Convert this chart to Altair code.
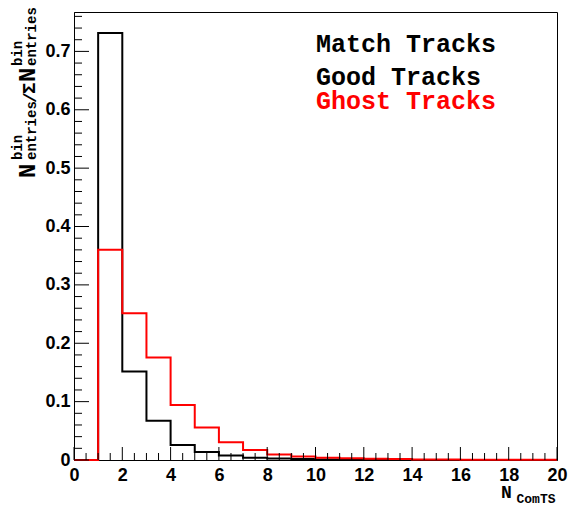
import altair as alt
import pandas as pd

# Normalised N_ComTS distributions, one value per unit bin from 0 to 20
bin_edges = list(range(0, 21))
good_tracks = [0.0, 0.7315, 0.1515, 0.0674, 0.0257, 0.0135, 0.0077, 0.0040,
               0.0025, 0.0015, 0.0010, 0.0007, 0.0005, 0.0003, 0.0002, 0.0002,
               0.0001, 0.0001, 0.0001, 0.0001]
ghost_tracks = [0.0, 0.3600, 0.2516, 0.1755, 0.0943, 0.0556, 0.0306, 0.0170,
                0.0094, 0.0060, 0.0040, 0.0030, 0.0020, 0.0015, 0.0010, 0.0008,
                0.0006, 0.0005, 0.0004, 0.0003]

x_labels = list(range(0, 21, 2))
y_labels = [0.0, 0.1, 0.2, 0.3, 0.4, 0.5, 0.6, 0.7]

W, H = 483, 448
PAD_L, PAD_T = 74, 12
MONO = "Liberation Mono"
SANS = "Liberation Sans"

xscale = alt.Scale(domain=[0, 20], nice=False, zero=False)
yscale = alt.Scale(domain=[0, 0.7675], nice=False, zero=True)

x_axis = alt.Axis(values=x_labels, ticks=False, grid=False, title=None,
                  labelFont=SANS, labelFontWeight="bold", labelFontSize=18,
                  labelColor="black", labelPadding=6, domainColor="black",
                  labelFlush=False, labelOverlap=False)
y_axis = alt.Axis(values=y_labels, ticks=False, grid=False, title=None,
                  labelFont=SANS, labelFontWeight="bold", labelFontSize=18,
                  labelColor="black", labelPadding=4, domainColor="black",
                  labelFlush=False, labelOverlap=False,
                  labelExpr="datum.value == 0 ? '0' : format(datum.value, '.1f')")


def step_frame(values):
    # outline points at every bin edge; the last bin is closed at x = 20
    return pd.DataFrame({"edge": bin_edges, "value": values + [values[-1]]})


def hist(values, color):
    return alt.Chart(step_frame(values)).mark_line(
        interpolate="step-after", color=color, strokeWidth=2
    ).encode(
        x=alt.X("edge:Q", scale=xscale, axis=x_axis),
        y=alt.Y("value:Q", scale=yscale, axis=y_axis),
    )


# inward-pointing ticks, ROOT style
x_major = [float(v) for v in range(0, 21, 2)]
x_minor = [i * 0.5 for i in range(41) if i % 4 != 0]
y_major = [round(i * 0.1, 2) for i in range(8)]
y_minor = [round(i * 0.02, 2) for i in range(39) if i % 5 != 0]


def xticks(vals, length):
    return alt.Chart(pd.DataFrame({"edge": vals})).mark_rule(
        color="black", strokeWidth=1
    ).encode(
        x=alt.X("edge:Q", scale=xscale, axis=x_axis),
        y=alt.value(H), y2=alt.value(H - length),
    )


def yticks(vals, length):
    return alt.Chart(pd.DataFrame({"value": vals})).mark_rule(
        color="black", strokeWidth=1
    ).encode(
        y=alt.Y("value:Q", scale=yscale, axis=y_axis),
        x=alt.value(0), x2=alt.value(length),
    )


one_row = pd.DataFrame({"k": [0]})


def label(text, px, py, size, color="black", angle=0, font=MONO):
    # px, py are page coordinates; shift into the plot-area frame
    return alt.Chart(one_row).mark_text(
        text=text, font=font, fontWeight="bold", fontSize=size, color=color,
        align="left", baseline="alphabetic", angle=angle,
    ).encode(x=alt.value(px - PAD_L), y=alt.value(py - PAD_T))


y_title = [
    label("N", 35, 178, 24, angle=270),
    label("bin", 22, 160, 14, angle=270),
    label("entries", 36, 160, 14, angle=270),
    label("/", 36, 103, 18, angle=270),
    label("Σ", 35, 94, 19, angle=270),
    label("N", 35, 82, 24, angle=270),
    label("bin", 22, 66, 14, angle=270),
    label("entries", 36, 66, 14, angle=270),
]

x_title = [
    label("N", 501, 498, 18),
    label("ComTS", 516.5, 502.5, 13),
]

legend = [
    label("Match Tracks", 316, 51.5, 25),
    label("Good Tracks", 316, 84.5, 25),
    label("Ghost Tracks", 316, 108.5, 25, color="#ff0000"),
]

chart = alt.layer(
    hist(good_tracks, "black"),
    hist(ghost_tracks, "#ff0000"),
    xticks(x_major, 13), xticks(x_minor, 7),
    yticks(y_major, 15), yticks(y_minor, 8),
    *y_title, *x_title, *legend,
).properties(
    width=W, height=H,
    autosize=alt.AutoSizeParams(type="none"),
    padding={"left": PAD_L, "top": PAD_T, "right": 576 - PAD_L - W,
             "bottom": 505 - PAD_T - H},
    background="white",
).configure_view(stroke="black", strokeWidth=1)

chart.save("out.html", embed_options={"renderer": "svg", "actions": False})
